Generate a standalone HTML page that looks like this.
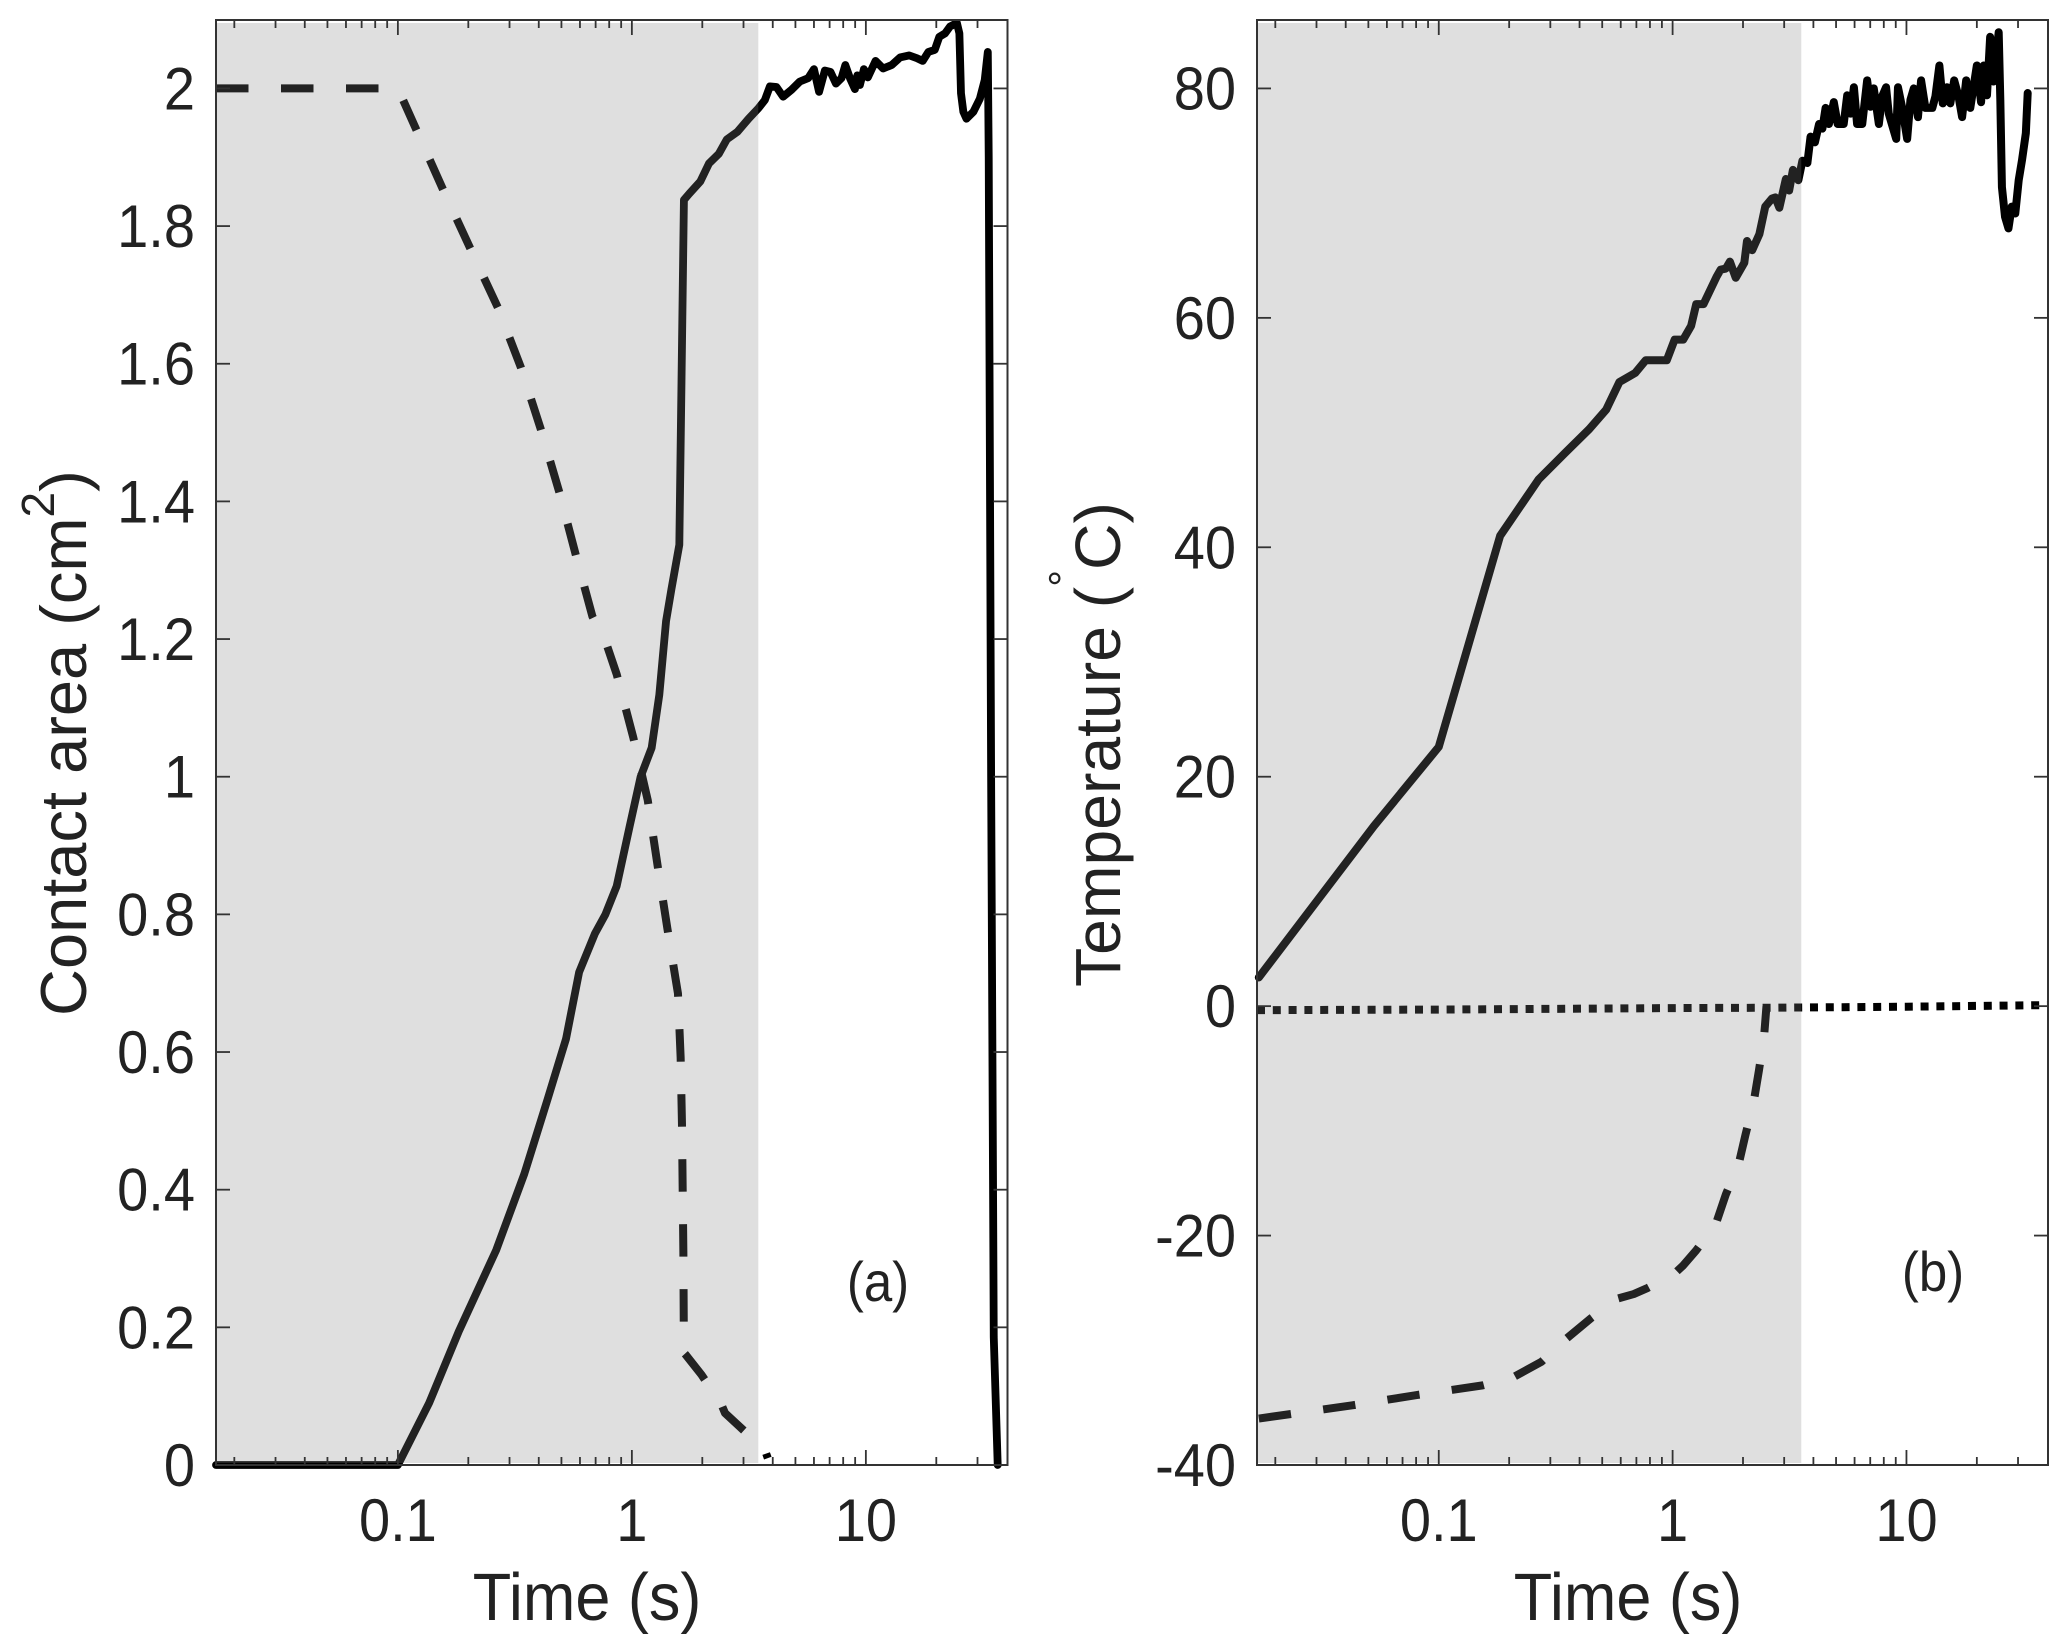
<!DOCTYPE html>
<html lang="en">
<head>
<meta charset="utf-8">
<title>Contact area and temperature versus time</title>
<style>
html,body{margin:0;padding:0;background:#fff;}
svg{display:block;font-family:"Liberation Sans",Arial,sans-serif;}
text{fill:#222;}
</style>
</head>
<body>
<svg id="figure" xmlns="http://www.w3.org/2000/svg" width="2067" height="1652" viewBox="0 0 2067 1652">
  <rect x="0" y="0" width="2067" height="1652" fill="#fff"/>
  <g id="panelA"></g>
  <g id="panelB"></g>

  <text transform="translate(587,1620) scale(1,1.06)" font-size="63" text-anchor="middle">Time (s)</text>
  <text transform="translate(1628,1620) scale(1,1.06)" font-size="63" text-anchor="middle">Time (s)</text>
  <text transform="translate(86,1016) rotate(-90)" font-size="65">Contact area (cm<tspan font-size="46" dy="-32">2</tspan><tspan dy="32">)</tspan></text>
  <text transform="translate(1120,987) rotate(-90)" font-size="64.3">Temperature (<tspan font-size="42" dy="-42">°</tspan><tspan dy="42">C)</tspan></text>
  <text transform="translate(878,1301) scale(1,1.1)" font-size="51" text-anchor="middle">(a)</text>
  <text transform="translate(1933,1291) scale(1,1.1)" font-size="51" text-anchor="middle">(b)</text>
</svg>
<script>
/* ---------- Shared axis data ---------- */
const xLimits = [0.0167, 40.3];
const xMajorTicks = [0.1, 1, 10];
const xMajorTickLabels = ['0.1', '1', '10'];
const xMinorTicks = [0.02,0.03,0.04,0.05,0.06,0.07,0.08,0.09,0.2,0.3,0.4,0.5,0.6,0.7,0.8,0.9,2,3,4,5,6,7,8,9,20,30];
const areaShadeEndTime = 3.47;
const tempShadeEndTime = 3.55;

/* ---------- Panel (a): contact area ---------- */
const areaYLimits = [0, 2.1];
const areaYTicks = [0, 0.2, 0.4, 0.6, 0.8, 1, 1.2, 1.4, 1.6, 1.8, 2];
const areaYTickLabels = ['0','0.2','0.4','0.6','0.8','1','1.2','1.4','1.6','1.8','2'];

const areaSolidTime = [0.0167,0.1,0.136,0.182,0.263,0.347,0.436,0.523,0.595,0.695,0.771,0.861,0.98,1.09,1.215,1.31,1.40,1.475,1.595,1.669,1.758,1.963,2.136,2.353,2.546,2.825,3.155,3.47,3.70,3.89,4.15,4.43,4.81,5.22,5.67,6.0,6.31,6.68,7.06,7.45,7.87,8.17,8.55,8.98,9.19,9.43,9.81,10.2,11.0,11.85,12.9,14.0,15.3,16.5,17.5,18.5,19.7,20.6,21.8,22.9,24.5,25.1,25.5,26.1,26.9,28.8,30.7,32.2,33.2,33.5,34.3,35.2,36.6];
const areaSolidValue = [0,0,0.09,0.194,0.312,0.423,0.531,0.619,0.716,0.772,0.80,0.841,0.929,1.0,1.042,1.119,1.226,1.272,1.337,1.838,1.847,1.865,1.891,1.905,1.926,1.937,1.956,1.971,1.983,2.003,2.002,1.988,1.998,2.010,2.015,2.028,1.995,2.026,2.024,2.007,2.015,2.034,2.015,1.999,2.019,2.005,2.028,2.016,2.04,2.029,2.034,2.045,2.048,2.044,2.040,2.053,2.056,2.075,2.08,2.09,2.095,2.08,1.993,1.966,1.956,1.966,1.985,2.012,2.053,1.9,1.0,0.186,0];

const areaDashedTime = [0.0167,0.1,0.121,0.156,0.203,0.268,0.336,0.408,0.490,0.573,0.678,0.782,0.861,1.014,1.169,1.288,1.419,1.574,1.616,1.637,1.66,1.669,1.70,1.985,2.42,2.5,2.89,3.70,3.81];
const areaDashedValue = [2,2,1.937,1.853,1.769,1.681,1.594,1.505,1.413,1.325,1.233,1.191,1.149,1.057,0.966,0.871,0.779,0.685,0.592,0.496,0.309,0.163,0.16,0.131,0.087,0.0755,0.0556,0.022,0.01];

/* ---------- Panel (b): temperature ---------- */
const tempYLimits = [-40, 86];
const tempYTicks = [-40, -20, 0, 20, 40, 60, 80];
const tempYTickLabels = ['-40','-20','0','20','40','60','80'];

const tempSolidTime = [0.0170,0.0528,0.1,0.183,0.267,0.346,0.44,0.52,0.592,0.692,0.767,0.944,1.02,1.11,1.2,1.262,1.356,1.543,1.604,1.69,1.758,1.862,2.026,2.08,2.19,2.35,2.49,2.66,2.75,2.86,3.05,3.15,3.27,3.45,3.59,3.77,3.89,4.06,4.23,4.37,4.51,4.66,4.89,5.08,5.39,5.58,5.77,5.96,6.15,6.47,6.79,7.02,7.25,7.62,7.87,8.18,8.4,9.04,9.2,9.57,10.07,10.4,10.75,11.2,11.55,12.05,12.9,13.3,13.83,14.3,14.9,15.4,16.0,16.7,17.3,18.0,18.75,20.0,20.85,21.4,22.1,22.8,23.6,24.8,25.2,25.6,26.4,27.3,28.2,29.2,30.2,31.2,32.4,33.0];
const tempSolidValue = [2.5,15.7,22.6,41.0,45.9,48.2,50.3,52.0,54.4,55.2,56.3,56.3,58.1,58.1,59.3,61.2,61.2,63.6,64.2,64.3,64.9,63.5,64.8,66.7,65.9,67.3,69.7,70.4,70.5,69.6,72.1,71.1,72.9,72,73.7,73.5,75.8,75.3,76.9,76.5,78.3,76.9,78.8,76.9,76.9,79.4,77.8,80.1,76.9,76.9,80.7,78.4,80,76.9,79.3,80.1,77.8,75.6,80.1,78.4,75.6,79,80,77.5,80.7,78.3,78.3,79.3,82,78.7,80.1,78.7,80.7,79.3,77.5,80.7,78.3,82,78.8,82,79.4,84.5,80.6,84.9,79,71.4,68.8,67.8,69.7,69.1,72,73.75,76.1,79.6];

const tempDashedTime = [0.017,0.0427,0.0805,0.154,0.206,0.275,0.346,0.448,0.581,0.682,0.776,1.02,1.11,1.26,1.53,1.69,1.92,2.05,2.22,2.34,2.46,2.52];
const tempDashedValue = [-35.95,-34.8,-33.9,-33.06,-32.4,-31.0,-29.1,-27.2,-25.5,-25.1,-24.6,-23.3,-22.6,-21.3,-19,-16.4,-13.7,-11.2,-8.4,-5.6,-2.7,0];

const tempDottedTime = [0.0167,0.1,1,2.5,10,40.3];
const tempDottedValue = [-0.35,-0.3,-0.17,-0.14,-0.05,0.09];

/* ---------- Drawing ---------- */
const SVGNS = 'http://www.w3.org/2000/svg';
function make(tag, attrs, parent) {
  const el = document.createElementNS(SVGNS, tag);
  for (const k in attrs) el.setAttribute(k, attrs[k]);
  parent.appendChild(el);
  return el;
}
function logScale(dom, x0, x1) {
  const a = Math.log10(dom[0]), b = Math.log10(dom[1]);
  return v => x0 + (Math.log10(v) - a) / (b - a) * (x1 - x0);
}
function linScale(dom, y0, y1) {
  return v => y0 + (v - dom[0]) / (dom[1] - dom[0]) * (y1 - y0);
}
function linePath(xs, ys, X, Y) {
  return xs.map((t, i) => (i ? 'L' : 'M') + X(t).toFixed(2) + ' ' + Y(ys[i]).toFixed(2)).join('');
}

const TOP = 20, BOTTOM = 1465, AXIS = '#333', INK = '#000';
const LABEL_STRETCH = 1.08;

function drawFrame(g, X, Y, left, right, yTicks, yLabels, prefix) {
  const frame = make('rect', {x:left, y:TOP, width:right-left, height:BOTTOM-TOP, fill:'none', stroke:AXIS, 'stroke-width':2}, g);
  
  

  xMinorTicks.forEach(t => {
    const x = X(t);
    const low = make('line', {x1:x, x2:x, y1:BOTTOM, y2:BOTTOM-8, stroke:AXIS, 'stroke-width':1.8}, g);
    
    
    const high = make('line', {x1:x, x2:x, y1:TOP, y2:TOP+8, stroke:AXIS, 'stroke-width':1.8}, g);
    
    
  });
  xMajorTicks.forEach((t, i) => {
    const x = X(t);
    const low = make('line', {x1:x, x2:x, y1:BOTTOM, y2:BOTTOM-15, stroke:AXIS, 'stroke-width':1.8}, g);
    
    
    const high = make('line', {x1:x, x2:x, y1:TOP, y2:TOP+15, stroke:AXIS, 'stroke-width':1.8}, g);
    
    
    const lab = make('text', {transform:'translate(' + x + ',1541) scale(1,' + LABEL_STRETCH + ')', 'font-size':56, 'text-anchor':'middle'}, g);
    lab.textContent = xMajorTickLabels[i];
    
    
  });
  yTicks.forEach((v, i) => {
    const y = Y(v);
    const l = make('line', {x1:left, x2:left+14, y1:y, y2:y, stroke:AXIS, 'stroke-width':1.8}, g);
    
    
    const r = make('line', {x1:right, x2:right-14, y1:y, y2:y, stroke:AXIS, 'stroke-width':1.8}, g);
    
    
    const lab = make('text', {transform:'translate(' + (left-21) + ',' + (y+21) + ') scale(1,' + LABEL_STRETCH + ')', 'font-size':56, 'text-anchor':'end'}, g);
    lab.textContent = yLabels[i];
    
    
  });
}

function drawShade(g, X, left, endTime, prefix) {
  const s = make('rect', {x:left, y:TOP+3, width:X(endTime)-left, height:BOTTOM-TOP-5, fill:'rgb(131,131,131)', 'fill-opacity':0.26}, g);
  
  
}

/* Panel (a) */
const gA = document.getElementById('panelA');
const XA = logScale(xLimits, 216, 1007.5);
const YA = linScale(areaYLimits, 1465, 19.6);

const areaDashed = make('path', {d:linePath(areaDashedTime, areaDashedValue, XA, YA), fill:'none', stroke:INK, 'stroke-width':8, 'stroke-dasharray':'32.5 32.5', 'stroke-linejoin':'round'}, gA);



const areaSolid = make('path', {d:linePath(areaSolidTime, areaSolidValue, XA, YA), fill:'none', stroke:INK, 'stroke-width':7.8, 'stroke-linejoin':'round', 'stroke-linecap':'round'}, gA);



drawShade(gA, XA, 216, areaShadeEndTime, 'panel-a');
drawFrame(gA, XA, YA, 216, 1007.5, areaYTicks, areaYTickLabels, 'panel-a');

/* Panel (b) */
const gB = document.getElementById('panelB');
const XB = logScale(xLimits, 1257, 2048);
const YB = linScale(tempYLimits, 1465, 19.6);

const tempDotted = make('path', {d:linePath(tempDottedTime, tempDottedValue, XB, YB), fill:'none', stroke:INK, 'stroke-width':8, 'stroke-dasharray':'8 7.8'}, gB);



const tempDashed = make('path', {d:linePath(tempDashedTime, tempDashedValue, XB, YB), fill:'none', stroke:INK, 'stroke-width':8, 'stroke-dasharray':'32.5 32.5', 'stroke-linejoin':'round'}, gB);



const tempSolid = make('path', {d:linePath(tempSolidTime, tempSolidValue, XB, YB), fill:'none', stroke:INK, 'stroke-width':8, 'stroke-linejoin':'round', 'stroke-linecap':'round'}, gB);



drawShade(gB, XB, 1257, tempShadeEndTime, 'panel-b');
drawFrame(gB, XB, YB, 1257, 2048, tempYTicks, tempYTickLabels, 'panel-b');
</script>
</body>
</html>
